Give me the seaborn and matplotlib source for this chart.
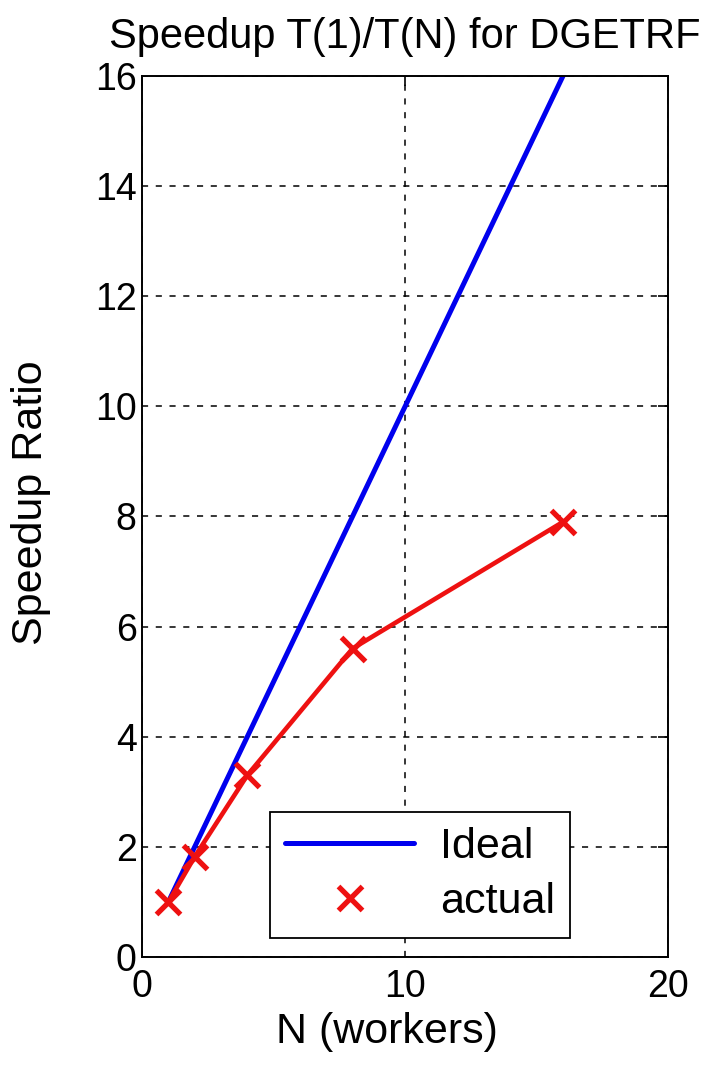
import matplotlib
matplotlib.use("Agg")
import matplotlib.pyplot as plt
import seaborn as sns
import pandas as pd

workers = [1, 2, 4, 8, 16]
ideal = [1, 2, 4, 8, 16]
actual = [1.0, 1.82, 3.3, 5.6, 7.9]

x_ticks = [0, 10, 20]
y_ticks = [0, 2, 4, 6, 8, 10, 12, 14, 16]

df = pd.DataFrame({"N": workers, "ideal": ideal, "actual": actual})

sns.set_style("white")
plt.rcParams["font.family"] = ["Liberation Sans", "DejaVu Sans"]
plt.rcParams["text.color"] = "black"
plt.rcParams["axes.labelcolor"] = "black"

fig = plt.figure(figsize=(7.14, 10.68), dpi=100)
ax = fig.add_axes([0.199, 0.104, 0.737, 0.825])

sns.lineplot(data=df, x="N", y="ideal", color="#0000ee", linewidth=3.6, label="Ideal", ax=ax)
sns.lineplot(data=df, x="N", y="actual", color="#ee1111", linewidth=3.3, ax=ax, legend=False)
sns.lineplot(data=df, x="N", y="actual", color="#ee1111", marker="x", markersize=17,
             markeredgewidth=3.8, markeredgecolor="#ee1111", linestyle="none",
             label="actual", ax=ax)

ax.set_xlim(0, 20)
ax.set_ylim(0, 16)
ax.set_xticks(x_ticks)
ax.set_yticks(y_ticks)
ax.grid(True, color="black", linestyle=(0, (4, 5)), linewidth=1.1)
for s in ax.spines.values():
    s.set_color("black")
    s.set_linewidth(1.4)
ax.tick_params(direction="in", length=7, width=1.2, top=True, right=True,
               labelsize=27, colors="black")
ax.tick_params(axis="y", pad=4)
ax.tick_params(axis="x", pad=9)

ax.set_title("Speedup T(1)/T(N) for DGETRF", fontsize=30, pad=20)
ax.set_xlabel("N (workers)", fontsize=31)
ax.set_ylabel("Speedup Ratio", fontsize=31)
ax.xaxis.set_label_coords(0.465, -0.063)
ax.yaxis.set_label_coords(-0.173, 0.516)

leg = ax.legend(loc="lower left", bbox_to_anchor=(0.243, 0.022), fontsize=31,
                handlelength=3.0, handletextpad=0.6, borderpad=0.35, labelspacing=0.35,
                fancybox=False, framealpha=1, edgecolor="black", borderaxespad=0)
leg.get_frame().set_linewidth(1.3)

fig.savefig("out.png", dpi=100)
